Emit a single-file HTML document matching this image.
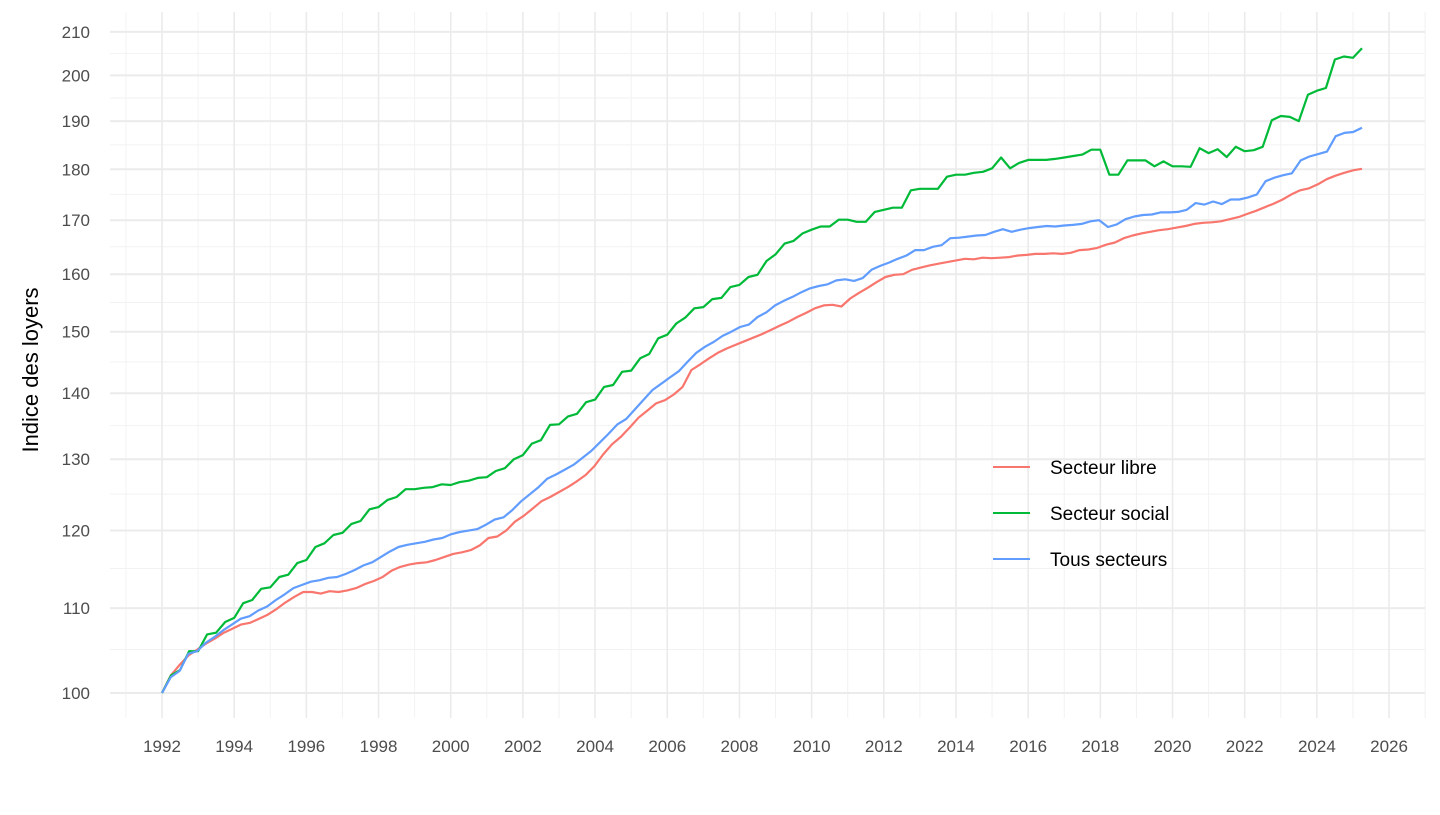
<!DOCTYPE html>
<html><head><meta charset="utf-8"><style>
body{margin:0;background:#fff;font-family:"Liberation Sans",Arial,sans-serif}
svg text{font-family:"Liberation Sans",Arial,sans-serif}
</style></head><body>
<svg id="chart" width="1440" height="810">
<g id="grid"></g><g id="axes"></g><g id="series"></g>
<text transform="translate(38,370) rotate(-90)" text-anchor="middle" font-size="22" fill="#000">Indice des loyers</text>
<g>
<g><line x1="993" x2="1030" y1="467" y2="467" stroke="#F8766D" stroke-width="2"/><text x="1050" y="474" font-size="19">Secteur libre</text></g>
<g><line x1="993" x2="1030" y1="513" y2="513" stroke="#00BA38" stroke-width="2"/><text x="1050" y="520" font-size="19">Secteur social</text></g>
<g><line x1="993" x2="1030" y1="559" y2="559" stroke="#619CFF" stroke-width="2"/><text x="1050" y="566" font-size="19">Tous secteurs</text></g>
</g>
</svg>
<script>
const startYear = 1992;
const endYear = 2025.25;
const yTicks = [100,110,120,130,140,150,160,170,180,190,200,210];
const yMinor = [105,115,125,135,145,155,165,175,185,195,205];
const xTicks = [1992,1994,1996,1998,2000,2002,2004,2006,2008,2010,2012,2014,2016,2018,2020,2022,2024,2026];
const libre = [100,102,103.2,104.3,105,105.7,106.3,107,107.5,108,108.2,108.7,109.2,109.9,110.7,111.4,112,112,111.8,112.1,112,112.2,112.5,113,113.4,113.9,114.7,115.2,115.5,115.7,115.8,116.1,116.5,116.9,117.1,117.4,118,119,119.2,120,121.2,122,123,124,124.6,125.3,126,126.8,127.7,129,130.7,132.2,133.3,134.7,136.2,137.3,138.4,138.9,139.8,141,143.7,144.6,145.6,146.5,147.2,147.8,148.4,149,149.6,150.3,151,151.7,152.5,153.2,154,154.5,154.6,154.3,155.7,156.7,157.6,158.6,159.5,159.9,160,160.8,161.2,161.6,161.9,162.2,162.5,162.8,162.7,163,162.9,163,163.1,163.4,163.5,163.7,163.7,163.8,163.7,163.9,164.4,164.5,164.8,165.4,165.8,166.6,167.1,167.5,167.8,168.1,168.3,168.6,168.9,169.3,169.5,169.6,169.8,170.2,170.6,171.2,171.8,172.5,173.2,174,175,175.8,176.2,177,178,178.7,179.3,179.8,180.1];
const social = [100,102,102.6,104.8,104.8,106.8,107,108.3,108.8,110.6,111,112.4,112.6,113.9,114.2,115.7,116.1,117.8,118.3,119.4,119.7,120.9,121.3,122.9,123.2,124.2,124.6,125.7,125.7,125.9,126,126.4,126.3,126.7,126.9,127.3,127.4,128.3,128.7,130,130.6,132.3,132.8,135.1,135.2,136.4,136.8,138.6,139,141,141.3,143.4,143.6,145.6,146.3,148.9,149.5,151.4,152.4,154,154.2,155.6,155.8,157.7,158.1,159.5,159.9,162.4,163.6,165.6,166.1,167.5,168.2,168.8,168.8,170.1,170.1,169.7,169.7,171.6,172,172.4,172.4,175.8,176.1,176.1,176.1,178.5,178.9,178.9,179.3,179.5,180.2,182.4,180.2,181.3,181.9,181.9,181.9,182.1,182.4,182.7,183,184,184,178.9,178.9,181.8,181.8,181.8,180.6,181.6,180.6,180.6,180.5,184.3,183.3,184.1,182.5,184.6,183.7,183.9,184.6,190.2,191.1,190.9,190,195.7,196.6,197.2,203.6,204.3,204,206.2];
const tous = [100,101.8,102.5,104.5,104.8,105.8,106.5,107.3,108,108.7,109,109.7,110.2,111,111.7,112.5,112.9,113.3,113.5,113.8,113.9,114.3,114.8,115.4,115.8,116.5,117.2,117.8,118.1,118.3,118.5,118.8,119,119.5,119.8,120,120.2,120.8,121.5,121.8,122.8,124,125,126,127.2,127.8,128.5,129.2,130.2,131.2,132.5,133.8,135.2,136,137.5,139,140.5,141.5,142.5,143.5,145,146.5,147.5,148.3,149.3,150,150.8,151.2,152.5,153.3,154.5,155.3,156,156.8,157.5,157.9,158.2,158.9,159.1,158.8,159.3,160.8,161.5,162.1,162.8,163.4,164.4,164.4,165,165.3,166.6,166.7,166.9,167.1,167.2,167.8,168.3,167.8,168.2,168.5,168.7,168.9,168.8,169,169.1,169.3,169.8,170,168.7,169.2,170.2,170.7,171,171.1,171.5,171.5,171.6,172,173.3,173,173.6,173.1,174,174,174.4,175,177.6,178.3,178.8,179.2,181.8,182.6,183.1,183.6,186.8,187.5,187.7,188.6];

const X = t => 162 + (t - 1992) * 36.09;
const Y = v => 693 - 891 * Math.log(v / 100);
const NS = "http://www.w3.org/2000/svg";
function mk(tag, attrs, parent){const e=document.createElementNS(NS,tag);for(const k in attrs)e.setAttribute(k,attrs[k]);parent.appendChild(e);return e;}
const grid=document.getElementById('grid'), axes=document.getElementById('axes'), ser=document.getElementById('series');
const L=110,R=1425,T=12,B=718;
yMinor.forEach(v=>{const l=mk('line',{x1:L,x2:R,y1:Y(v),y2:Y(v),stroke:'#f2f2f2','stroke-width':1},grid);

});
for(let yr=1991;yr<=2027;yr+=2){const l=mk('line',{x1:X(yr),x2:X(yr),y1:T,y2:B,stroke:'#f2f2f2','stroke-width':1},grid);

}
yTicks.forEach(v=>{const l=mk('line',{x1:L,x2:R,y1:Y(v),y2:Y(v),stroke:'#ebebeb','stroke-width':2},grid);


const t=mk('text',{x:90,y:Y(v)+6,'text-anchor':'end','font-size':17,fill:'#4d4d4d'},axes);t.textContent=v;

});
xTicks.forEach(v=>{const l=mk('line',{x1:X(v),x2:X(v),y1:T,y2:B,stroke:'#ebebeb','stroke-width':1.6},grid);


const t=mk('text',{x:X(v),y:752,'text-anchor':'middle','font-size':17,fill:'#4d4d4d'},axes);t.textContent=v;

});
function line(arr,color,name){const step=(endYear-startYear)/(arr.length-1);
const d=arr.map((v,i)=>(i?'L':'M')+X(startYear+i*step).toFixed(1)+','+Y(v).toFixed(1)).join('');
const p=mk('path',{d:d,fill:'none',stroke:color,'stroke-width':2.2,'stroke-linejoin':'round'},ser);

}
line(libre,'#F8766D','line-secteur-libre');
line(social,'#00BA38','line-secteur-social');
line(tous,'#619CFF','line-tous-secteurs');
</script>
</body></html>
